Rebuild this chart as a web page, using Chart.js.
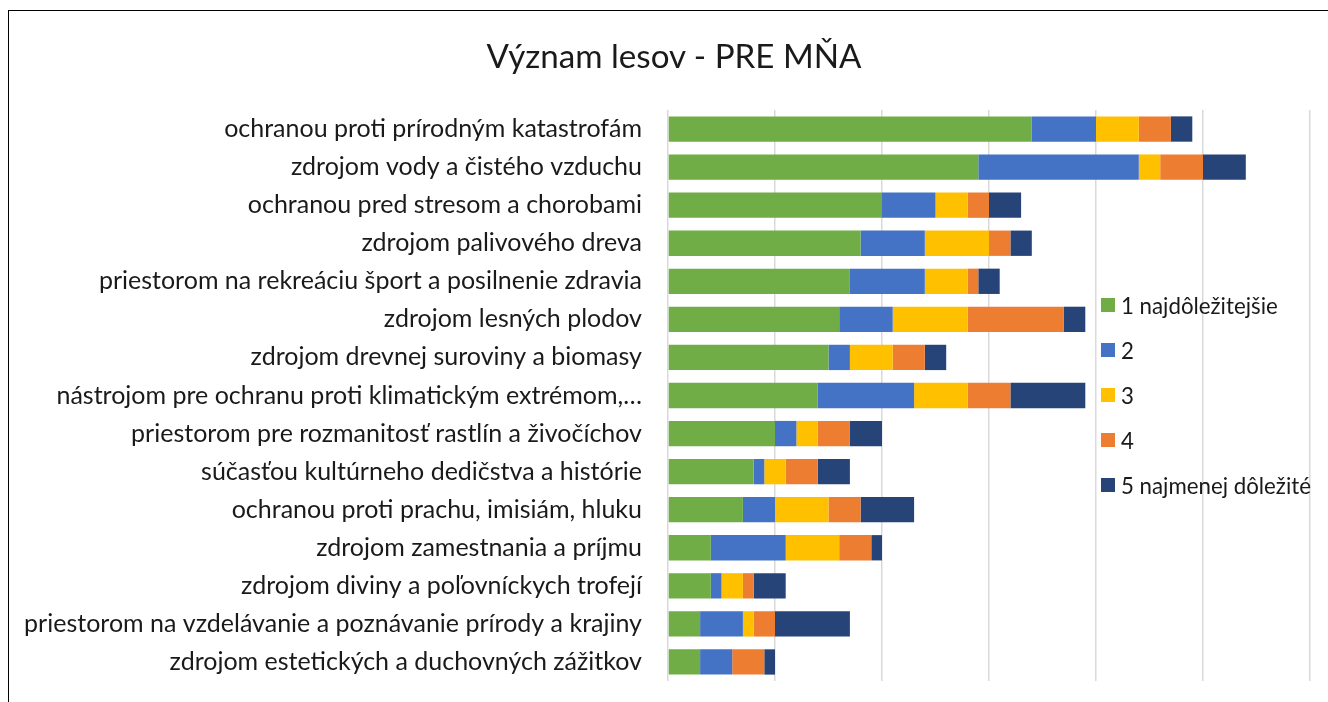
<!DOCTYPE html>
<html lang="sk">
<head>
<meta charset="utf-8">
<title>Význam lesov - PRE MŇA</title>
<script src="https://cdn.jsdelivr.net/npm/chart.js@4.4.1/dist/chart.umd.min.js"></script>
<style>
    html, body { margin: 0; padding: 0; background: #fff; overflow: hidden; }
    #wrap { position: relative; width: 1328px; height: 702px; }
    #frame { position: absolute; left: 8px; top: 10px; width: 1400px; height: 800px; border: 1.5px solid #000; box-sizing: border-box; }
    #chart { position: absolute; left: 0; top: 0; }
    #title { position: absolute; left: 0; width: 1348px; text-align: center; font-family: Lato, sans-serif; color: #1a1a1a; white-space: nowrap; }
    #legend { position: absolute; left: 1101px; top: 0; font-family: Lato, sans-serif; color: #1a1a1a; }
    .item { position: absolute; left: 0; display: flex; align-items: center; white-space: nowrap; height: 30px; }
    .box { width: 14px; height: 14px; margin-right: 6px; flex: none; }
</style>
</head>
<body>
<div id="wrap">
    <div id="frame"></div>
    <canvas id="chart" width="1328" height="702"></canvas>
    <div id="title">Význam lesov - PRE MŇA</div>
    <div id="legend"></div>
</div>
<script>
// Kategórie (odpovede) a počty hlasov podľa poradia dôležitosti
const categories = [
    'ochranou proti prírodným katastrofám',
    'zdrojom vody a čistého vzduchu',
    'ochranou pred stresom a chorobami',
    'zdrojom palivového dreva',
    'priestorom na rekreáciu šport a posilnenie zdravia',
    'zdrojom lesných plodov',
    'zdrojom drevnej suroviny a biomasy',
    'nástrojom pre ochranu proti klimatickým extrémom,…',
    'priestorom pre rozmanitosť rastlín a živočíchov',
    'súčasťou kultúrneho dedičstva a histórie',
    'ochranou proti prachu, imisiám, hluku',
    'zdrojom zamestnania a príjmu',
    'zdrojom diviny a poľovníckych trofejí',
    'priestorom na vzdelávanie a poznávanie prírody a krajiny',
    'zdrojom estetických a duchovných zážitkov'
];

const seriesNames = ['1 najdôležitejšie', '2', '3', '4', '5 najmenej dôležité'];

const rank1 = [34, 29, 20, 18, 17, 16, 15, 14, 10, 8, 7, 4, 4, 3, 3];
const rank2 = [6, 15, 5, 6, 7, 5, 2, 9, 2, 1, 3, 7, 1, 4, 3];
const rank3 = [4, 2, 3, 6, 4, 7, 4, 5, 2, 2, 5, 5, 2, 1, 0];
const rank4 = [3, 4, 2, 2, 1, 9, 3, 4, 3, 3, 3, 3, 1, 2, 3];
const rank5 = [2, 4, 3, 2, 2, 2, 2, 7, 3, 3, 5, 1, 3, 7, 1];

const xTicks = { min: 0, max: 60, step: 10 };

const colors = ['#70AD47', '#4472C4', '#FFC000', '#ED7D31', '#264478'];

// Veľkosť písma podľa šírky textu v originále
const FONT = 'Lato, "Open Sans", sans-serif';
function fitSize(text, width) {
    const c = document.createElement('canvas').getContext('2d');
    c.font = '100px ' + FONT;
    return 100 * width / c.measureText(text).width;
}
const titleSize = fitSize('Význam lesov - PRE MŇA', 376);
const labelSize = fitSize('ochranou proti prírodným katastrofám', 418);
const legendSize = fitSize('5 najmenej dôležité', 190);

// Nadpis (stred na x = 674, y = 56)
const title = document.getElementById('title');
title.style.fontSize = titleSize + 'px';
title.style.lineHeight = (titleSize * 1.2) + 'px';
title.style.top = (56 - titleSize * 0.6) + 'px';

const values = [rank1, rank2, rank3, rank4, rank5];

const chart = new Chart(document.getElementById('chart'), {
    type: 'bar',
    data: {
        labels: categories,
        datasets: seriesNames.map(function(name, i) {
            return {
                label: name,
                data: values[i],
                backgroundColor: colors[i],
                borderWidth: 0,
                barPercentage: 1,
                categoryPercentage: 0.665
            };
        })
    },
    options: {
        indexAxis: 'y',
        responsive: false,
        animation: false,
        layout: { autoPadding: false, padding: { left: 0, right: 18, top: 110, bottom: 21 } },
        scales: {
            x: {
                stacked: true,
                min: xTicks.min,
                max: xTicks.max,
                ticks: { display: false, stepSize: xTicks.step },
                grid: { color: '#d9d9d9', lineWidth: 1.5, drawTicks: false },
                border: { display: false }
            },
            y: {
                stacked: true,
                grid: { display: false, drawTicks: true, tickLength: 23 },
                border: { display: false },
                ticks: {
                    padding: 3,
                    color: '#1a1a1a',
                    font: { family: FONT, size: labelSize }
                },
                afterFit: function(scale) { scale.width = 668; }
            }
        },
        plugins: {
            legend: { display: false },
            tooltip: { enabled: false },
            title: { display: false }
        }
    }
});

// Legenda vpravo (prekrýva oblasť grafu ako v Exceli)
const legend = document.getElementById('legend');
seriesNames.forEach(function(name, i) {
    const item = document.createElement('div');
    item.className = 'item';
    item.style.top = (305 + i * 45 - 15) + 'px';
    item.style.fontSize = legendSize + 'px';
    item.innerHTML = '<span class="box" style="background:' + colors[i] + '"></span><span></span>';
    item.lastChild.textContent = name;
    legend.appendChild(item);
});
</script>
</body>
</html>
